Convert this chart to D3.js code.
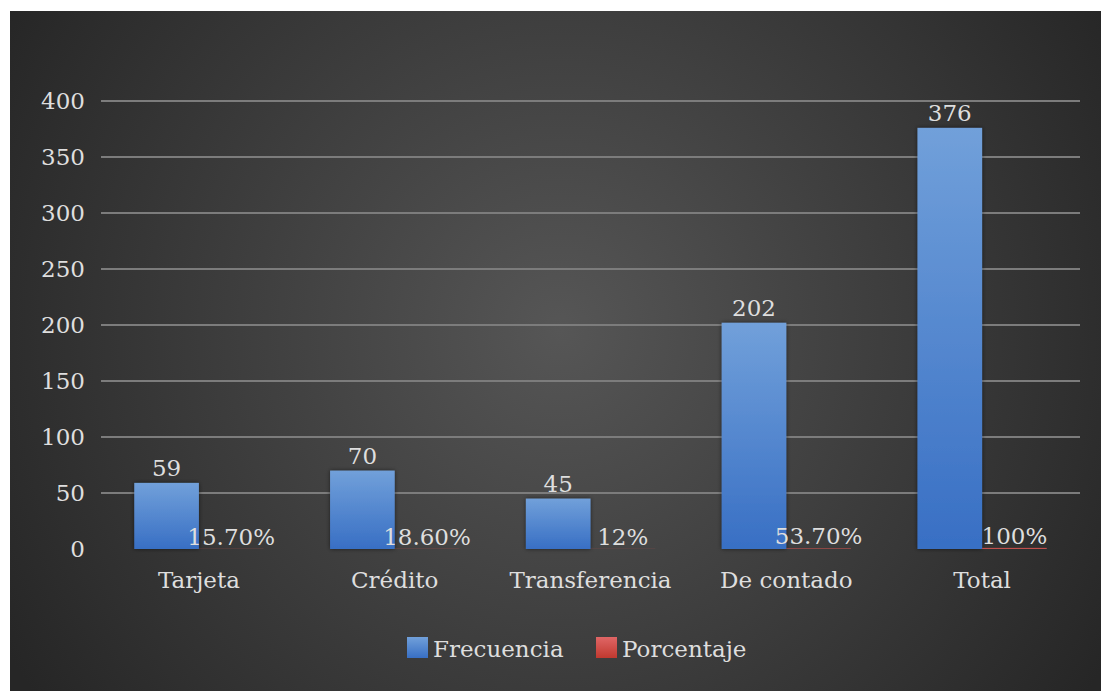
<!DOCTYPE html>
<html>
<head>
<meta charset="utf-8">
<script src="https://cdn.jsdelivr.net/npm/d3@7"></script>
<style>
  html, body { margin: 0; padding: 0; background: #ffffff; }
  svg { display: block; }
  text { font-family: "DejaVu Serif", serif; fill: #dedede; }
</style>
</head>
<body>
<svg id="chart" width="1101" height="691"></svg>
<script>
// Métodos de pago: frecuencia y porcentaje
const categories = ["Tarjeta", "Crédito", "Transferencia", "De contado", "Total"];
const frecuencia = [59, 70, 45, 202, 376];
const porcentaje = [0.157, 0.186, 0.12, 0.537, 1.0];
const seriesNames = ["Frecuencia", "Porcentaje"];
const yTicks = [0, 50, 100, 150, 200, 250, 300, 350, 400];

const svg = d3.select("#chart");
const W = 1101, H = 691;
const plot = { left: 101, right: 1080, top: 101, bottom: 549 };
const FONT = "DejaVu Serif, serif";
const FS = 23;

const defs = svg.append("defs");

// radial background glow
const bg = defs.append("radialGradient")
  .attr("id", "bgGrad").attr("gradientUnits", "userSpaceOnUse")
  .attr("cx", 560).attr("cy", 330).attr("r", 640);
bg.append("stop").attr("offset", "0%").attr("stop-color", "#565656");
bg.append("stop").attr("offset", "100%").attr("stop-color", "#262626");

const blueGrad = defs.append("linearGradient")
  .attr("id", "blueGrad").attr("x1", 0).attr("y1", 0).attr("x2", 0).attr("y2", 1);
blueGrad.append("stop").attr("offset", "0%").attr("stop-color", "#71a0da");
blueGrad.append("stop").attr("offset", "100%").attr("stop-color", "#386fc4");

const redGrad = defs.append("linearGradient")
  .attr("id", "redGrad").attr("x1", 0).attr("y1", 0).attr("x2", 0).attr("y2", 1);
redGrad.append("stop").attr("offset", "0%").attr("stop-color", "#e06666");
redGrad.append("stop").attr("offset", "100%").attr("stop-color", "#c0392f");

const shadow = defs.append("filter").attr("id", "barShadow")
  .attr("x", "-20%").attr("y", "-20%").attr("width", "140%").attr("height", "140%");
shadow.append("feDropShadow").attr("dx", 0).attr("dy", 0)
  .attr("stdDeviation", 2).attr("flood-color", "#000").attr("flood-opacity", 0.55);

svg.append("rect").attr("x", 10).attr("y", 11).attr("width", W - 10).attr("height", H - 11)
  .attr("fill", "url(#bgGrad)");

// scales
const x = d3.scaleBand().domain(categories).range([plot.left, plot.right])
  .paddingInner(0.34).paddingOuter(0.17);
const xs = d3.scaleBand().domain(seriesNames).range([0, x.bandwidth()]);
const y = d3.scaleLinear().domain([0, 400]).range([plot.bottom, plot.top]);

// gridlines
svg.append("g").selectAll("line").data(yTicks.filter(t => t > 0)).join("line")
  .attr("x1", plot.left).attr("x2", plot.right)
  .attr("y1", d => y(d)).attr("y2", d => y(d))
  .attr("stroke", "#7c7c7c").attr("stroke-width", 2);

// y axis labels
const yAxis = svg.append("g").attr("transform", `translate(${plot.left},0)`)
  .call(d3.axisLeft(y).tickValues(yTicks).tickSize(0).tickPadding(16));
yAxis.select(".domain").remove();
yAxis.selectAll("text").attr("font-size", FS).attr("fill", "#dedede").attr("font-family", FONT);

// x axis labels
const xAxis = svg.append("g").attr("transform", `translate(0,${plot.bottom})`)
  .call(d3.axisBottom(x).tickSize(0).tickPadding(23));
xAxis.select(".domain").remove();
xAxis.selectAll("text").attr("font-size", FS).attr("fill", "#dedede").attr("font-family", FONT);

const rows = categories.map((c, i) => ({ cat: c, f: frecuencia[i], p: porcentaje[i] }));

const pctFmt = v => {
  const pct = v * 100;
  return Math.abs(pct - Math.round(pct)) < 1e-9 ? d3.format(".0f")(pct) + "%" : d3.format(".2f")(pct) + "%";
};

const groups = svg.append("g").selectAll("g").data(rows).join("g")
  .attr("transform", d => `translate(${x(d.cat)},0)`);

// frequency bars
groups.append("rect")
  .attr("x", xs("Frecuencia")).attr("width", xs.bandwidth())
  .attr("y", d => y(d.f)).attr("height", d => y(0) - y(d.f))
  .attr("fill", "url(#blueGrad)").attr("filter", "url(#barShadow)");

// percentage bars (share plotted on the same axis)
groups.append("rect")
  .attr("x", xs("Porcentaje")).attr("width", xs.bandwidth())
  .attr("y", d => y(d.p)).attr("height", d => y(0) - y(d.p))
  .attr("fill", "#c0504d");

// value labels
groups.append("text")
  .attr("x", xs("Frecuencia") + xs.bandwidth() / 2)
  .attr("y", d => y(d.f) - 7)
  .attr("text-anchor", "middle").attr("font-size", FS)
  .text(d => d.f);

groups.append("text")
  .attr("x", xs("Porcentaje") + xs.bandwidth() / 2)
  .attr("y", d => y(d.p) - 4)
  .attr("text-anchor", "middle").attr("font-size", FS)
  .text(d => pctFmt(d.p));

// legend
const legendItems = [
  { name: "Frecuencia", fill: "url(#blueGrad)", x: 407 },
  { name: "Porcentaje", fill: "url(#redGrad)", x: 596 }
];
const li = svg.append("g").selectAll("g").data(legendItems).join("g")
  .attr("transform", d => `translate(${d.x},637)`);
li.append("rect").attr("width", 21).attr("height", 21).attr("fill", d => d.fill);
li.append("text").attr("x", 26).attr("y", 20).attr("font-size", FS).text(d => d.name);
</script>
</body>
</html>
